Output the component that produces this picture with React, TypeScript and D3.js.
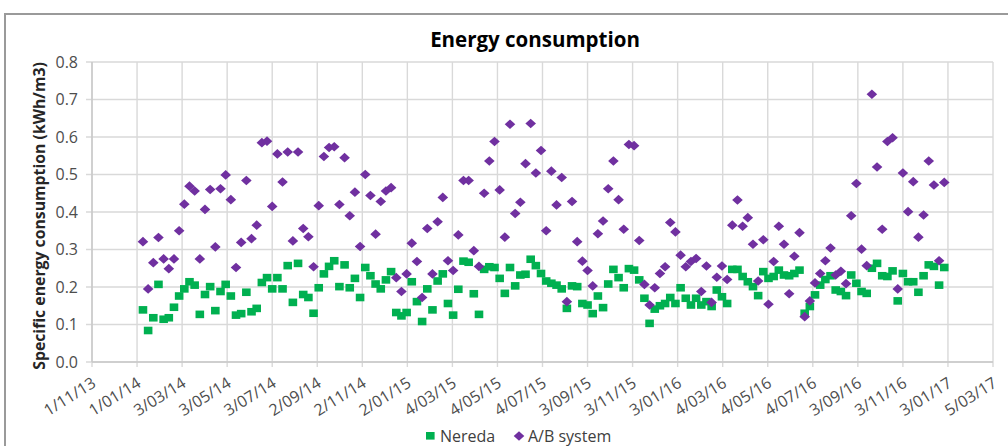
import React, { useEffect, useRef } from "react";
import * as d3 from "d3";

const dates = [
  "2014-01-09", "2014-01-16", "2014-01-23", "2014-01-30",
  "2014-02-06", "2014-02-13", "2014-02-20", "2014-02-27",
  "2014-03-06", "2014-03-13", "2014-03-20", "2014-03-27",
  "2014-04-03", "2014-04-10", "2014-04-17", "2014-04-24",
  "2014-05-01", "2014-05-08", "2014-05-15", "2014-05-22", "2014-05-29",
  "2014-06-05", "2014-06-12", "2014-06-19", "2014-06-26",
  "2014-07-03", "2014-07-10", "2014-07-17", "2014-07-24", "2014-07-31",
  "2014-08-07", "2014-08-14", "2014-08-21", "2014-08-28",
  "2014-09-04", "2014-09-11", "2014-09-18", "2014-09-25",
  "2014-10-02", "2014-10-09", "2014-10-16", "2014-10-23", "2014-10-30",
  "2014-11-06", "2014-11-13", "2014-11-20", "2014-11-27",
  "2014-12-04", "2014-12-11", "2014-12-18", "2014-12-25",
  "2015-01-01", "2015-01-08", "2015-01-15", "2015-01-22", "2015-01-29",
  "2015-02-05", "2015-02-12", "2015-02-19", "2015-02-26",
  "2015-03-05", "2015-03-12", "2015-03-19", "2015-03-26",
  "2015-04-02", "2015-04-09", "2015-04-16", "2015-04-23", "2015-04-30",
  "2015-05-07", "2015-05-14", "2015-05-21", "2015-05-28",
  "2015-06-04", "2015-06-11", "2015-06-18", "2015-06-25",
  "2015-07-02", "2015-07-09", "2015-07-16", "2015-07-23", "2015-07-30",
  "2015-08-06", "2015-08-13", "2015-08-20", "2015-08-27",
  "2015-09-03", "2015-09-10", "2015-09-17", "2015-09-24",
  "2015-10-01", "2015-10-08", "2015-10-15", "2015-10-22", "2015-10-29",
  "2015-11-05", "2015-11-12", "2015-11-19", "2015-11-26",
  "2015-12-03", "2015-12-10", "2015-12-17", "2015-12-24", "2015-12-31",
  "2016-01-07", "2016-01-14", "2016-01-21", "2016-01-28",
  "2016-02-04", "2016-02-11", "2016-02-18", "2016-02-25",
  "2016-03-03", "2016-03-10", "2016-03-17", "2016-03-24", "2016-03-31",
  "2016-04-07", "2016-04-14", "2016-04-21", "2016-04-28",
  "2016-05-05", "2016-05-12", "2016-05-19", "2016-05-26",
  "2016-06-02", "2016-06-09", "2016-06-16", "2016-06-23", "2016-06-30",
  "2016-07-07", "2016-07-14", "2016-07-21", "2016-07-28",
  "2016-08-04", "2016-08-11", "2016-08-18", "2016-08-25",
  "2016-09-01", "2016-09-08", "2016-09-15", "2016-09-22", "2016-09-29",
  "2016-10-06", "2016-10-13", "2016-10-20", "2016-10-27",
  "2016-11-03", "2016-11-10", "2016-11-17", "2016-11-24",
  "2016-12-01", "2016-12-08", "2016-12-15", "2016-12-22", "2016-12-29",
];

// kWh/m3, Nereda
const nereda = [
  0.139, 0.084, 0.118, 0.207, 0.114, 0.118, 0.146, 0.176, 0.195, 0.214,
  0.205, 0.127, 0.180, 0.201, 0.137, 0.188, 0.207, 0.176, 0.125, 0.129,
  0.186, 0.134, 0.143, 0.212, 0.225, 0.195, 0.225, 0.195, 0.257, 0.159,
  0.263, 0.180, 0.172, 0.130, 0.198, 0.235, 0.255, 0.270, 0.201, 0.259,
  0.198, 0.223, 0.172, 0.252, 0.230, 0.208, 0.195, 0.219, 0.241, 0.132,
  0.123, 0.132, 0.214, 0.161, 0.108, 0.195, 0.139, 0.216, 0.235, 0.156,
  0.125, 0.194, 0.269, 0.266, 0.182, 0.127, 0.247, 0.254, 0.252, 0.223,
  0.183, 0.252, 0.203, 0.232, 0.234, 0.274, 0.257, 0.236, 0.216, 0.210,
  0.205, 0.195, 0.143, 0.203, 0.201, 0.156, 0.152, 0.129, 0.176, 0.145,
  0.208, 0.247, 0.225, 0.198, 0.249, 0.245, 0.219, 0.170, 0.103, 0.141,
  0.150, 0.156, 0.172, 0.156, 0.198, 0.170, 0.152, 0.170, 0.152, 0.161,
  0.148, 0.192, 0.174, 0.156, 0.247, 0.247, 0.228, 0.214, 0.201, 0.177,
  0.241, 0.223, 0.228, 0.245, 0.232, 0.230, 0.236, 0.245, 0.130, 0.148,
  0.179, 0.205, 0.220, 0.230, 0.192, 0.188, 0.177, 0.232, 0.210, 0.188,
  0.183, 0.250, 0.263, 0.230, 0.228, 0.243, 0.163, 0.236, 0.214, 0.214,
  0.186, 0.230, 0.259, 0.255, 0.205, 0.252,
];

// kWh/m3, A/B system
const abSystem = [
  0.321, 0.195, 0.265, 0.332, 0.275, 0.249, 0.275, 0.350, 0.421, 0.469,
  0.456, 0.275, 0.407, 0.460, 0.307, 0.462, 0.499, 0.433, 0.252, 0.319,
  0.484, 0.329, 0.365, 0.585, 0.589, 0.415, 0.555, 0.480, 0.560, 0.323,
  0.560, 0.356, 0.334, 0.254, 0.417, 0.548, 0.572, 0.574, 0.420, 0.545,
  0.390, 0.453, 0.308, 0.500, 0.444, 0.341, 0.428, 0.456, 0.465, 0.225,
  0.188, 0.235, 0.317, 0.268, 0.172, 0.356, 0.235, 0.374, 0.439, 0.270,
  0.244, 0.339, 0.484, 0.484, 0.297, 0.255, 0.450, 0.536, 0.588, 0.459,
  0.333, 0.634, 0.396, 0.426, 0.529, 0.636, 0.504, 0.564, 0.350, 0.509,
  0.419, 0.492, 0.161, 0.428, 0.321, 0.269, 0.244, 0.203, 0.342, 0.376,
  0.462, 0.536, 0.433, 0.354, 0.580, 0.577, 0.324, 0.207, 0.152, 0.198,
  0.236, 0.254, 0.372, 0.347, 0.285, 0.254, 0.268, 0.276, 0.188, 0.256,
  0.159, 0.226, 0.256, 0.220, 0.365, 0.432, 0.362, 0.385, 0.314, 0.216,
  0.326, 0.154, 0.268, 0.362, 0.314, 0.182, 0.282, 0.345, 0.121, 0.163,
  0.211, 0.236, 0.270, 0.304, 0.232, 0.242, 0.209, 0.390, 0.476, 0.301,
  0.257, 0.714, 0.520, 0.354, 0.588, 0.598, 0.195, 0.504, 0.401, 0.481,
  0.333, 0.392, 0.536, 0.472, 0.270, 0.479,
];

const xTickLabels = [
  "1/11/13", "1/01/14", "3/03/14", "3/05/14", "3/07/14", "2/09/14", "2/11/14",
  "2/01/15", "4/03/15", "4/05/15", "4/07/15", "3/09/15", "3/11/15", "3/01/16",
  "4/03/16", "4/05/16", "4/07/16", "3/09/16", "3/11/16", "3/01/17", "5/03/17",
];
const yTicks = [0, 0.1, 0.2, 0.3, 0.4, 0.5, 0.6, 0.7, 0.8];

const FONT = "'Open Sans', 'DejaVu Sans', sans-serif";
const GREEN = "#00b050";
const PURPLE = "#7030a0";

const EnergyChart = () => {
  const svgRef = useRef(null);

  useEffect(() => {
    const W = 1008;
    const H = 446;
    const margin = { top: 62, right: 15, bottom: 84, left: 92 };

    const svg = d3.select(svgRef.current);
    svg.selectAll("*").remove();

    const parseTick = d3.timeParse("%d/%m/%y");
    const parseDate = d3.timeParse("%Y-%m-%d");
    const tickDates = xTickLabels.map((s) => parseTick(s));

    const x = d3.scaleTime()
      .domain([tickDates[0], tickDates[tickDates.length - 1]])
      .range([margin.left, W - margin.right]);

    const y = d3.scaleLinear()
      .domain([0, 0.8])
      .range([H - margin.bottom, margin.top]);

    const rows = dates.map((d, i) => ({
      date: parseDate(d),
      nereda: nereda[i],
      ab: abSystem[i],
    }));

    svg.append("rect")
      .attr("width", W)
      .attr("height", H)
      .attr("fill", "#fff");

    // chart area frame
    svg.append("rect")
      .attr("x", 5)
      .attr("y", 14)
      .attr("width", 1100)
      .attr("height", 500)
      .attr("fill", "none")
      .attr("stroke", "#9a9a9a")
      .attr("stroke-width", 2);

    // gridlines
    svg.append("g")
      .selectAll("line")
      .data(yTicks)
      .join("line")
      .attr("x1", margin.left - 6)
      .attr("x2", W - margin.right)
      .attr("y1", (d) => y(d))
      .attr("y2", (d) => y(d))
      .attr("stroke", "#d9d9d9")
      .attr("stroke-width", 1.4);

    svg.append("g")
      .selectAll("line")
      .data(tickDates)
      .join("line")
      .attr("x1", (d) => x(d))
      .attr("x2", (d) => x(d))
      .attr("y1", margin.top)
      .attr("y2", H - margin.bottom + 5)
      .attr("stroke", "#d9d9d9")
      .attr("stroke-width", 1.4);

    // axis lines
    svg.append("line")
      .attr("x1", margin.left)
      .attr("x2", margin.left)
      .attr("y1", margin.top)
      .attr("y2", H - margin.bottom)
      .attr("stroke", "#c8c8c8")
      .attr("stroke-width", 1.4);
    svg.append("line")
      .attr("x1", margin.left)
      .attr("x2", W - margin.right)
      .attr("y1", y(0))
      .attr("y2", y(0))
      .attr("stroke", "#c8c8c8")
      .attr("stroke-width", 1.4);

    // y tick labels
    svg.append("g")
      .selectAll("text")
      .data(yTicks)
      .join("text")
      .attr("x", 78)
      .attr("y", (d) => y(d))
      .attr("dy", "0.36em")
      .attr("text-anchor", "end")
      .attr("font-family", FONT)
      .attr("font-size", "16px")
      .attr("fill", "#4d4d4d")
      .text((d) => d3.format(".1f")(d));

    // x tick labels
    svg.append("g")
      .selectAll("text")
      .data(tickDates)
      .join("text")
      .attr("transform", (d) => `translate(${x(d) + 5},${y(0) + 24}) rotate(-32)`)
      .attr("text-anchor", "end")
      .attr("font-family", FONT)
      .attr("font-size", "16px")
      .attr("fill", "#4d4d4d")
      .text((d, i) => xTickLabels[i]);

    // Nereda squares
    svg.append("g")
      .selectAll("rect")
      .data(rows)
      .join("rect")
      .attr("x", (d) => x(d.date) - 4.3)
      .attr("y", (d) => y(d.nereda) - 3.8)
      .attr("width", 8.6)
      .attr("height", 7.6)
      .attr("fill", GREEN);

    // A/B diamonds
    const diamond = "M0,-4.8L5.3,0L0,4.8L-5.3,0Z";
    svg.append("g")
      .selectAll("path")
      .data(rows)
      .join("path")
      .attr("transform", (d) => `translate(${x(d.date)},${y(d.ab)})`)
      .attr("d", diamond)
      .attr("fill", PURPLE);

    // title
    svg.append("text")
      .attr("x", 535)
      .attr("y", 47)
      .attr("text-anchor", "middle")
      .attr("font-family", FONT)
      .attr("font-weight", "bold")
      .attr("font-size", "20.5px")
      .attr("fill", "#000")
      .text("Energy consumption");

    // y axis title
    svg.append("text")
      .attr("transform", `translate(45,${(margin.top + H - margin.bottom) / 2 + 4}) rotate(-90)`)
      .attr("text-anchor", "middle")
      .attr("font-family", FONT)
      .attr("font-weight", "bold")
      .attr("font-size", "15.8px")
      .attr("fill", "#262626")
      .text("Specific energy consumption (kWh/m3)");

    // legend
    const legend = svg.append("g").attr("font-family", FONT).attr("font-size", "16px").attr("fill", "#404040");
    legend.append("rect")
      .attr("x", 426)
      .attr("y", 432)
      .attr("width", 8.6)
      .attr("height", 7.6)
      .attr("fill", GREEN);
    legend.append("text")
      .attr("x", 440)
      .attr("y", 442)
      .text("Nereda");
    legend.append("path")
      .attr("transform", "translate(519,436)")
      .attr("d", diamond)
      .attr("fill", PURPLE);
    legend.append("text")
      .attr("x", 528)
      .attr("y", 442)
      .text("A/B system");
  }, []);

  return (
    <svg
      ref={svgRef}
      width={1008}
      height={446}
      style={{ position: "absolute", left: 0, top: 0, display: "block" }}
    ></svg>
  );
};

export default function App() {
  return <EnergyChart />;
}
